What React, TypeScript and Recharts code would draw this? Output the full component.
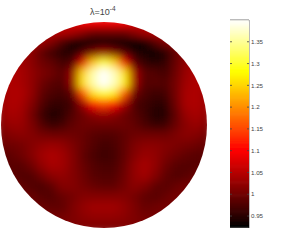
import React from 'react';
import { ScatterChart, Scatter, XAxis, YAxis, ReferenceLine } from 'recharts';

// disc coordinates of the sampled grid, left to right and top to bottom
const gridX = [-1, -0.9, -0.8, -0.7, -0.6, -0.5, -0.4, -0.3, -0.2, -0.1, 0, 0.1, 0.2, 0.3, 0.4, 0.5, 0.6, 0.7, 0.8, 0.9, 1];
const gridY = [1, 0.9, 0.8, 0.7, 0.6, 0.5, 0.4, 0.3, 0.2, 0.1, 0, -0.1, -0.2, -0.3, -0.4, -0.5, -0.6, -0.7, -0.8, -0.9, -1];

// values, one row per gridY entry
const heatRows = [
  [1.06, 1.06, 1.06, 1.06, 1.06, 1.06, 1.06, 1.08, 1.1, 1.1, 1.1, 1.1, 1.1, 1.08, 1.06, 1.06, 1.06, 1.06, 1.06, 1.06, 1.06],
  [1.05, 1.05, 1.05, 1.05, 1.05, 1.05, 1.05, 1.04, 1.02, 1.0, 1.0, 1.0, 1.0, 1.02, 1.04, 1.05, 1.05, 1.05, 1.05, 1.05, 1.05],
  [1.04, 1.04, 1.04, 1.04, 1.03, 1.01, 0.975, 0.94, 0.915, 0.91, 0.91, 0.91, 0.91, 0.915, 0.94, 0.98, 1.01, 1.03, 1.03, 1.03, 1.03],
  [1.03, 1.03, 1.04, 1.02, 0.99, 0.965, 0.95, 0.95, 0.98, 1.01, 1.03, 1.01, 0.98, 0.95, 0.935, 0.93, 0.95, 0.99, 1.02, 1.03, 1.03],
  [1.04, 1.04, 1.035, 1.02, 1.0, 0.99, 0.97, 0.98, 1.08, 1.24, 1.31, 1.25, 1.09, 0.985, 0.96, 0.95, 0.96, 0.995, 1.025, 1.04, 1.04],
  [1.04, 1.045, 1.04, 1.025, 1.01, 1.0, 0.985, 1.03, 1.25, 1.36, 1.46, 1.37, 1.26, 1.04, 0.985, 0.98, 0.97, 1.0, 1.03, 1.045, 1.04],
  [1.04, 1.045, 1.04, 1.025, 1.0, 0.985, 0.98, 1.03, 1.26, 1.36, 1.43, 1.37, 1.27, 1.04, 0.98, 0.985, 0.98, 1.005, 1.035, 1.045, 1.04],
  [1.03, 1.045, 1.045, 1.025, 0.99, 0.975, 0.97, 0.99, 1.15, 1.26, 1.3, 1.27, 1.16, 1.0, 0.975, 0.965, 0.97, 1.005, 1.04, 1.045, 1.03],
  [1.03, 1.045, 1.04, 1.015, 0.98, 0.96, 0.96, 0.97, 1.03, 1.11, 1.15, 1.11, 1.04, 0.975, 0.965, 0.955, 0.955, 1.0, 1.04, 1.045, 1.03],
  [1.025, 1.04, 1.035, 1.005, 0.965, 0.945, 0.955, 0.98, 1.0, 1.02, 1.03, 1.02, 1.0, 0.985, 0.965, 0.945, 0.95, 0.99, 1.03, 1.04, 1.025],
  [1.015, 1.03, 1.03, 1.01, 0.98, 0.96, 0.97, 0.99, 1.0, 1.0, 1.0, 1.0, 1.0, 0.99, 0.975, 0.96, 0.965, 0.995, 1.02, 1.03, 1.015],
  [1.005, 1.015, 1.02, 1.015, 1.005, 1.0, 1.0, 1.0, 0.995, 0.985, 0.98, 0.98, 0.99, 1.0, 1.0, 1.0, 1.0, 1.01, 1.02, 1.015, 1.005],
  [1.0, 1.0, 1.005, 1.015, 1.025, 1.03, 1.025, 1.01, 0.995, 0.98, 0.97, 0.975, 0.99, 1.01, 1.02, 1.02, 1.015, 1.01, 1.005, 1.0, 0.99],
  [0.985, 0.99, 1.0, 1.015, 1.035, 1.045, 1.035, 1.015, 0.99, 0.975, 0.965, 0.97, 0.99, 1.015, 1.03, 1.025, 1.01, 1.0, 0.99, 0.985, 0.985],
  [0.985, 0.985, 0.985, 1.0, 1.025, 1.04, 1.035, 1.015, 0.995, 0.98, 0.975, 0.975, 0.995, 1.025, 1.04, 1.025, 1.0, 0.985, 0.98, 0.985, 0.99],
  [0.99, 0.99, 0.98, 0.98, 1.0, 1.02, 1.025, 1.015, 1.0, 0.985, 0.98, 0.98, 1.0, 1.025, 1.035, 1.015, 0.99, 0.98, 0.985, 0.995, 0.995],
  [1.0, 1.0, 0.99, 0.98, 0.975, 0.99, 1.015, 1.015, 1.005, 0.995, 0.99, 0.99, 1.005, 1.02, 1.01, 0.99, 0.985, 0.995, 1.005, 1.005, 1.005],
  [1.005, 1.005, 1.0, 0.995, 0.985, 0.98, 0.995, 1.005, 1.015, 1.015, 1.015, 1.015, 1.015, 1.005, 0.99, 0.985, 0.995, 1.005, 1.005, 1.005, 1.005],
  [1.005, 1.005, 1.005, 1.0, 0.995, 0.99, 0.99, 1.01, 1.025, 1.035, 1.035, 1.035, 1.025, 1.01, 0.995, 1.0, 1.005, 1.005, 1.005, 1.005, 1.005],
  [1.005, 1.005, 1.005, 1.005, 1.005, 1.005, 1.005, 1.01, 1.02, 1.025, 1.025, 1.025, 1.02, 1.01, 1.005, 1.005, 1.005, 1.005, 1.005, 1.005, 1.005],
  [1.01, 1.01, 1.01, 1.01, 1.01, 1.01, 1.01, 1.01, 1.01, 1.01, 1.01, 1.01, 1.01, 1.01, 1.01, 1.01, 1.01, 1.01, 1.01, 1.01, 1.01],
];

// colour bar bands, bottom to top
const barLevels = [
  0.926, 0.934, 0.941, 0.949, 0.956, 0.964, 0.971, 0.978, 0.986, 0.993, 1.001, 1.008, 1.016, 1.023, 1.031, 1.038,
  1.045, 1.053, 1.06, 1.068, 1.075, 1.083, 1.09, 1.097, 1.105, 1.112, 1.12, 1.127, 1.135, 1.142, 1.15, 1.157,
  1.164, 1.172, 1.179, 1.187, 1.194, 1.202, 1.209, 1.216, 1.224, 1.231, 1.239, 1.246, 1.254, 1.261, 1.269, 1.276,
  1.283, 1.291, 1.298, 1.306, 1.313, 1.321, 1.328, 1.336, 1.343, 1.35, 1.358, 1.365, 1.373, 1.38, 1.388, 1.395,
];
const barTicks = [0.95, 1, 1.05, 1.1, 1.15, 1.2, 1.25, 1.3, 1.35];

const V_MIN = 0.9225;
const V_MAX = 1.4;

// matlab "hot": red ramps first, then green, then blue
const hotColor = (v: number) => {
  const t = Math.min(1, Math.max(0, (v - V_MIN) / (V_MAX - V_MIN)));
  const r = Math.min(1, t / 0.375);
  const g = Math.min(1, Math.max(0, (t - 0.375) / 0.375));
  const b = Math.max(0, (t - 0.75) / 0.25);
  return `rgb(${Math.round(r * 255)},${Math.round(g * 255)},${Math.round(b * 255)})`;
};

const heatCells = gridY.flatMap((y, row) => gridX.map((x, col) => ({ x, y, value: heatRows[row][col] })));
const barData = barLevels.map((level) => ({ x: 0, level }));

const HeatCell = ({ cx, cy, value }: any) => (
  <rect x={cx - 5.7} y={cy - 5.7} width={11.4} height={11.4} fill={hotColor(value)} />
);

// bands are wider than the bar, the clip cuts them back after the blur
const BarBand = ({ cx, cy, level }: any) => (
  <rect x={cx - 14} y={cy - 2} width={28} height={4} fill={hotColor(level)} />
);

const BarTick = ({ x, y, payload }: any) => (
  <g>
    <line x1={x - 19} x2={x - 17} y1={y} y2={y} stroke="#444" strokeWidth={0.8} />
    <line x1={x - 2} x2={x} y1={y} y2={y} stroke="#444" strokeWidth={0.8} />
    <text x={x + 2} y={y + 2.2} fontSize={6.2} fontFamily="Liberation Sans, Arial, sans-serif" fill="#444">
      {payload.value}
    </text>
  </g>
);

export default function App() {
  return (
    <div style={{ position: 'absolute', left: 0, top: 0, width: 283, height: 245, background: '#fff' }}>
      <style>{`
        .heat-disc .recharts-scatter { filter: url(#heat-blur); clip-path: url(#heat-clip); }
        .color-bar .recharts-scatter { filter: url(#bar-blur); clip-path: url(#bar-clip); }
      `}</style>
      <div className="heat-disc" style={{ position: 'absolute', left: 0, top: 0 }}>
        <ScatterChart width={283} height={245} margin={{ top: 22, right: 76, bottom: 17, left: 1 }}>
          <defs>
            <filter id="heat-blur" filterUnits="userSpaceOnUse" x={-20} y={0} width={250} height={250}>
              <feGaussianBlur stdDeviation={4.5} />
            </filter>
            <clipPath id="heat-clip" clipPathUnits="userSpaceOnUse">
              <circle cx={104} cy={125} r={103} />
            </clipPath>
          </defs>
          <XAxis type="number" dataKey="x" domain={[-1, 1]} hide />
          <YAxis type="number" dataKey="y" domain={[-1, 1]} hide />
          <Scatter data={heatCells} shape={<HeatCell />} isAnimationActive={false} />
          <text x={90} y={15} fontSize={9} fontFamily="Liberation Sans, Arial, sans-serif" fill="#444">
            λ=10
            <tspan fontSize={6.5} dy={-4}>-4</tspan>
          </text>
        </ScatterChart>
      </div>
      <div className="color-bar" style={{ position: 'absolute', left: 0, top: 0 }}>
        <ScatterChart width={283} height={245} margin={{ top: 20, right: 0, bottom: 17, left: 230 }}>
          <defs>
            <filter id="bar-blur" filterUnits="userSpaceOnUse" x={210} y={0} width={60} height={245}>
              <feGaussianBlur stdDeviation={0.9} />
            </filter>
            <clipPath id="bar-clip" clipPathUnits="userSpaceOnUse">
              <rect x={230} y={20} width={19} height={208} />
            </clipPath>
          </defs>
          <XAxis type="number" dataKey="x" domain={[-1, 1]} hide />
          <YAxis
            type="number"
            dataKey="level"
            orientation="right"
            width={34}
            domain={[V_MIN, V_MAX]}
            ticks={barTicks}
            interval={0}
            tickLine={false}
            tickSize={0}
            tickMargin={0}
            axisLine={{ stroke: '#777' }}
            tick={<BarTick />}
          />
          <Scatter data={barData} shape={<BarBand />} isAnimationActive={false} />
          <ReferenceLine y={V_MAX} stroke="#777" />
        </ScatterChart>
      </div>
    </div>
  );
}
